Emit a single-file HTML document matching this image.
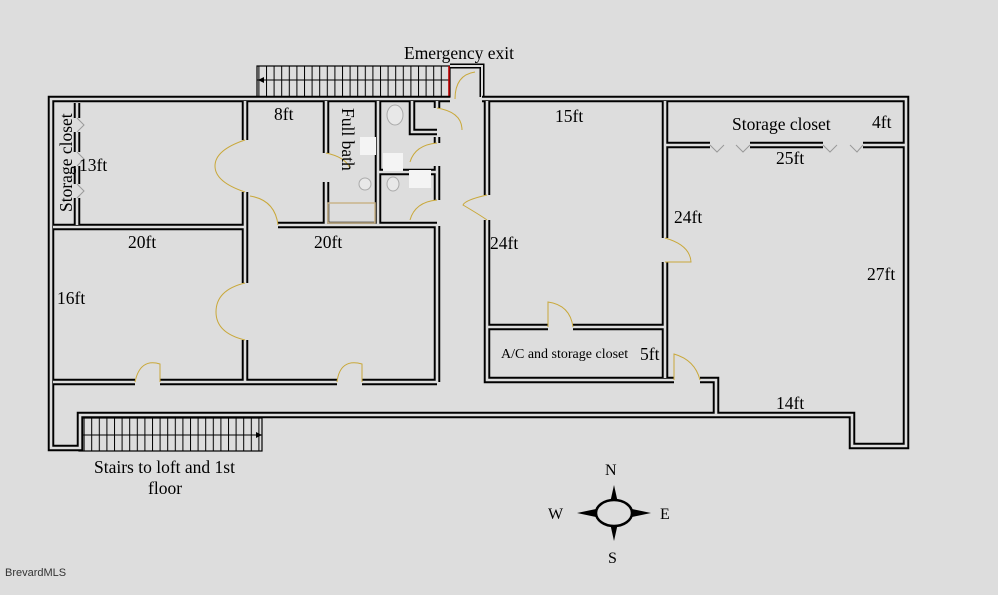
<!DOCTYPE html>
<html><head><meta charset="utf-8"><style>
html,body{margin:0;padding:0;background:#dddddd;}
svg{display:block;font-family:"Liberation Serif",serif;}
</style></head><body>
<svg width="998" height="595" viewBox="0 0 998 595" xmlns="http://www.w3.org/2000/svg">
<defs>
<pattern id="st" x="0" y="0" width="7.6" height="40" patternUnits="userSpaceOnUse">
<line x1="0.5" y1="0" x2="0.5" y2="40" stroke="#000" stroke-width="1"/>
</pattern>
<g id="W">
<path d="M450,99 H51 V448 H80 V415 H852 V446 H906 V99 H482"/>
<path d="M77,103 V118 M77,132 V152 M77,166 V184 M77,198 V225"/>
<path d="M53,227 H245"/>
<path d="M245,101 V140 M245,192 V230"/>
<path d="M278,225 H437"/>
<path d="M326,101 V153 M326,182 V225"/>
<path d="M378,101 V225"/>
<path d="M412,101 V132 H437"/>
<path d="M378,172 H437"/>
<path d="M437,101 V108 M437,137 V143 M437,166 V200 M437,226 V382"/>
<path d="M245,230 V283 M245,340 V382"/>
<path d="M53,382 H135 M160,382 H337 M362,382 H437"/>
<path d="M487,101 V195 M487,220 V380 H674"/>
<path d="M665,101 V238 M665,262 V378"/>
<path d="M487,327 H548 M573,327 H665"/>
<path d="M700,380 H716 V415"/>
<path d="M665,145 H710 M750,145 H823 M863,145 H906"/>
</g>
</defs>
<rect width="998" height="595" fill="#dddddd"/>
<rect x="257" y="66" width="193" height="31" fill="url(#st)" stroke="#000" stroke-width="1.2"/>
<line x1="257" y1="80" x2="450" y2="80" stroke="#000" stroke-width="1"/>
<line x1="449" y1="66" x2="449" y2="97" stroke="#c00" stroke-width="1.5"/>
<polygon points="258,80 264,77 264,83" fill="#000"/>
<path d="M450,66 H482 V97" fill="none" stroke="#000" stroke-width="5"/>
<path d="M450,66 H482 V97" fill="none" stroke="#ddd" stroke-width="2"/>
<rect x="79" y="418" width="183" height="33" fill="url(#st)" stroke="#000" stroke-width="1.2"/>
<line x1="79" y1="435" x2="262" y2="435" stroke="#000" stroke-width="1"/>
<line x1="80" y1="418" x2="80" y2="451" stroke="#c00" stroke-width="1.5"/>
<polygon points="262,435 256,432 256,438" fill="#000"/>
<use href="#W" stroke="#000" stroke-width="6.5" fill="none"/>
<use href="#W" stroke="#dddddd" stroke-width="2.6" fill="none"/>
<g fill="none" stroke="#c9a83a" stroke-width="1">
<path d="M245,140 Q215,150 215,166 M245,192 Q215,182 215,166"/>
<path d="M250,196 Q275,200 278,225"/>
<path d="M326,153 Q345,157 350,168"/>
<path d="M245,283 Q216,290 216,312 M245,340 Q216,333 216,312"/>
<path d="M135,382 Q140,358 160,364 V382"/>
<path d="M337,382 Q340,358 362,364 V382"/>
<path d="M437,108 Q462,112 462,130 M437,143 Q415,145 410,162 M437,200 Q415,202 410,220"/>
<path d="M455,99 Q455,75 475,72 M487,195 Q465,200 463,205 Q480,215 487,220"/>
<path d="M665,238 Q690,245 691,262 H665"/>
<path d="M548,327 V302 Q570,305 573,327"/>
<path d="M674,380 V354 Q695,360 700,380"/>
</g>
<g fill="none" stroke="#9a9a9a" stroke-width="1">
<path d="M77,118 L84,125 L77,132 M77,152 L84,159 L77,166 M77,184 L84,191 L77,198"/>
<path d="M710,145 L717,152 L724,145 M736,145 L743,152 L750,145 M823,145 L830,152 L837,145 M850,145 L857,152 L863,145"/>
</g>
<rect x="328" y="203" width="47" height="20" fill="none" stroke="#c9b48a" stroke-width="1.5"/>
<ellipse cx="395" cy="115" rx="8" ry="10" fill="#e8e8e8" stroke="#aaa"/>
<ellipse cx="365" cy="184" rx="6" ry="6" fill="#e8e8e8" stroke="#aaa"/>
<ellipse cx="393" cy="184" rx="6" ry="7" fill="#e8e8e8" stroke="#aaa"/>
<rect x="360" y="137" width="16" height="18" fill="#f4f4f4"/>
<rect x="383" y="153" width="20" height="18" fill="#f4f4f4"/>
<rect x="409" y="170" width="22" height="18" fill="#f4f4f4"/>
<g font-size="17.5" fill="#000">
<text x="404" y="59">Emergency exit</text>
<text x="274" y="120">8ft</text>
<text x="79" y="171">13ft</text>
<text x="128" y="248">20ft</text>
<text x="314" y="248">20ft</text>
<text x="57" y="304">16ft</text>
<text x="555" y="122">15ft</text>
<text x="490" y="249">24ft</text>
<text x="674" y="223">24ft</text>
<text x="732" y="130">Storage closet</text>
<text x="872" y="128">4ft</text>
<text x="776" y="164">25ft</text>
<text x="867" y="280">27ft</text>
<text x="640" y="360">5ft</text>
<text x="776" y="409">14ft</text>
<text x="94" y="473">Stairs to loft and 1st</text>
<text x="148" y="494">floor</text>
<text transform="translate(342,108) rotate(90)">Full bath</text>
<text transform="translate(72,212) rotate(-90)">Storage closet</text>
<text x="501" y="358" font-size="14">A/C and storage closet</text>
<text x="605" y="475" font-size="16">N</text>
<text x="548" y="519" font-size="16">W</text>
<text x="660" y="519" font-size="16">E</text>
<text x="608" y="563" font-size="16">S</text>
</g>
<text x="5" y="576" font-family="Liberation Sans,sans-serif" font-size="11" fill="#333">BrevardMLS</text>
<g fill="#000">
<polygon points="614,485 610,503 618,503"/>
<polygon points="614,541 610,523 618,523"/>
<polygon points="577,513 596,509 596,517"/>
<polygon points="651,513 632,509 632,517"/>
</g>
<ellipse cx="614" cy="513" rx="18" ry="13" fill="#ddd" stroke="#000" stroke-width="2.5"/>
</svg>
</body></html>
